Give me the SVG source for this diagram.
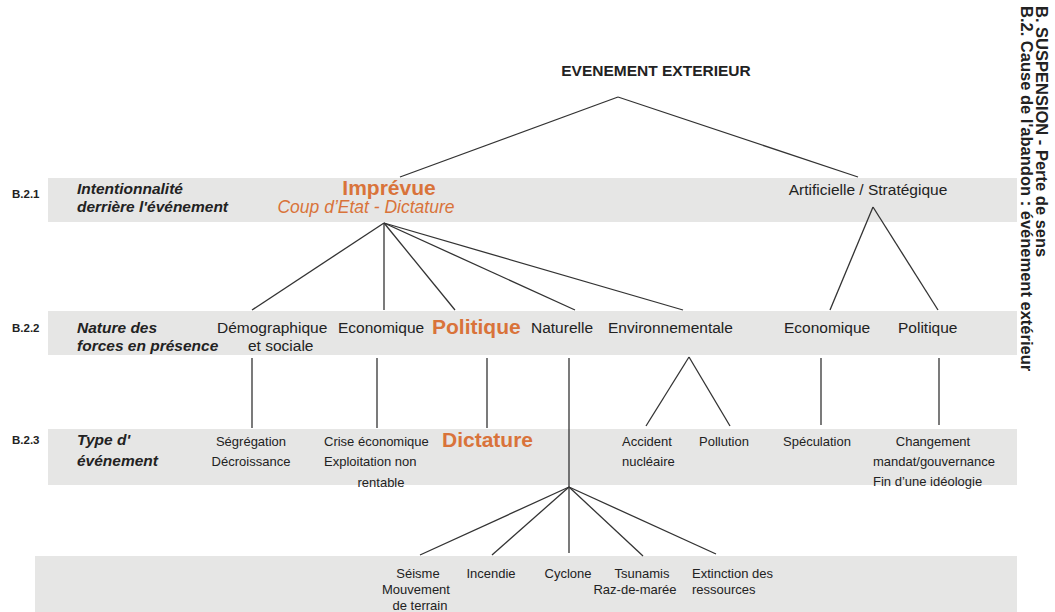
<svg xmlns="http://www.w3.org/2000/svg" width="1055" height="612" viewBox="0 0 1055 612">
<style>
text{font-family:"Liberation Sans",Arial,Helvetica,sans-serif;fill:#222}
.band{fill:#e6e6e5}
.code{font-size:11.5px;font-weight:bold}
.lab{font-size:15.5px;font-weight:bold;font-style:italic}
.t1{font-size:15.5px}
.t3{font-size:13px}
.or{font-size:21px;font-weight:bold;fill:#d9733a}
.ori{font-size:17.5px;font-style:italic;fill:#d9733a}
.side{font-size:16.5px;font-weight:bold}
.c line{stroke:#333;stroke-width:1.3;fill:none}
</style>
<rect width="1055" height="612" fill="#fff"/>
<g id="bands">
<rect class="band" x="48" y="178" width="969" height="44"/>
<rect class="band" x="48" y="311" width="969" height="44"/>
<rect class="band" x="48" y="429" width="969" height="56"/>
<rect class="band" x="35" y="556" width="982" height="56"/>
</g>
<g id="side">
<text class="side" transform="translate(1036,6) rotate(90)">B. SUSPENSION - Perte de sens</text>
<text class="side" transform="translate(1021,6) rotate(90)">B.2. Cause de l'abandon : événement extérieur</text>
</g>
<g id="row-labels">
<text class="code" x="12" y="198">B.2.1</text>
<text class="lab" x="77" y="194">Intentionnalité</text>
<text class="lab" x="77" y="212">derrière l'événement</text>
<text class="code" x="12" y="332">B.2.2</text>
<text class="lab" x="77" y="333">Nature des</text>
<text class="lab" x="77" y="351">forces en présence</text>
<text class="code" x="12" y="444">B.2.3</text>
<text class="lab" x="77" y="445">Type d'</text>
<text class="lab" x="77" y="466">événement</text>
</g>
<g id="connectors" class="c">
<line x1="618" y1="97" x2="400" y2="177"/>
<line x1="618" y1="97" x2="858" y2="177"/>
<line x1="384" y1="223" x2="252" y2="310"/>
<line x1="384" y1="223" x2="384" y2="310"/>
<line x1="384" y1="223" x2="455" y2="310"/>
<line x1="384" y1="223" x2="575" y2="310"/>
<line x1="384" y1="223" x2="683" y2="310"/>
<line x1="873" y1="207" x2="830" y2="310"/>
<line x1="873" y1="207" x2="938" y2="310"/>
<line x1="252" y1="358" x2="252" y2="428"/>
<line x1="377" y1="358" x2="377" y2="428"/>
<line x1="487" y1="358" x2="487" y2="428"/>
<line x1="821" y1="358" x2="821" y2="425"/>
<line x1="939" y1="358" x2="939" y2="425"/>
<line x1="569" y1="358" x2="569" y2="553"/>
<line x1="689" y1="357" x2="646" y2="426"/>
<line x1="689" y1="357" x2="730" y2="426"/>
<line x1="569" y1="487" x2="420" y2="555"/>
<line x1="569" y1="487" x2="492" y2="555"/>
<line x1="569" y1="487" x2="643" y2="556"/>
<line x1="569" y1="487" x2="716" y2="554"/>
</g>
<g id="n-root"><text x="656" y="76" text-anchor="middle" style="font-size:15.5px;font-weight:bold">EVENEMENT EXTERIEUR</text></g>
<g id="n-imprevue">
<text class="or" x="389" y="195" text-anchor="middle">Imprévue</text>
<text class="ori" x="366" y="213" text-anchor="middle">Coup d’Etat - Dictature</text>
</g>
<g id="n-artificielle"><text class="t1" x="868" y="195" text-anchor="middle">Artificielle / Stratégique</text></g>
<g id="n-demo"><text class="t1" x="217" y="333">Démographique</text><text class="t1" x="248" y="351">et sociale</text></g>
<g id="n-eco1"><text class="t1" x="338" y="333">Economique</text></g>
<g id="n-pol1"><text class="or" x="432" y="334">Politique</text></g>
<g id="n-nat"><text class="t1" x="531" y="333">Naturelle</text></g>
<g id="n-env"><text class="t1" x="608" y="333">Environnementale</text></g>
<g id="n-eco2"><text class="t1" x="784" y="333">Economique</text></g>
<g id="n-pol2"><text class="t1" x="898" y="333">Politique</text></g>
<g id="n-segr"><text class="t3" x="251" y="446" text-anchor="middle">Ségrégation</text><text class="t3" x="251" y="466" text-anchor="middle">Décroissance</text></g>
<g id="n-crise"><text class="t3" x="324" y="446">Crise économique</text><text class="t3" x="324" y="466">Exploitation non</text><text class="t3" x="381" y="487" text-anchor="middle">rentable</text></g>
<g id="n-dict"><text class="or" x="442" y="447">Dictature</text></g>
<g id="n-acc"><text class="t3" x="622" y="446">Accident</text><text class="t3" x="622" y="466">nucléaire</text></g>
<g id="n-poll"><text class="t3" x="699" y="446">Pollution</text></g>
<g id="n-spec"><text class="t3" x="783" y="446">Spéculation</text></g>
<g id="n-chg"><text class="t3" x="933" y="446" text-anchor="middle">Changement</text><text class="t3" x="934" y="466" text-anchor="middle">mandat/gouvernance</text><text class="t3" x="873" y="486">Fin d’une idéologie</text></g>
<g id="n-seisme"><text class="t3" x="418" y="578" text-anchor="middle">Séisme</text><text class="t3" x="416" y="594" text-anchor="middle">Mouvement</text><text class="t3" x="420" y="610" text-anchor="middle">de terrain</text></g>
<g id="n-inc"><text class="t3" x="491" y="578" text-anchor="middle">Incendie</text></g>
<g id="n-cyc"><text class="t3" x="568" y="578" text-anchor="middle">Cyclone</text></g>
<g id="n-tsu"><text class="t3" x="642" y="578" text-anchor="middle">Tsunamis</text><text class="t3" x="635" y="594" text-anchor="middle">Raz-de-marée</text></g>
<g id="n-ext"><text class="t3" x="692" y="578">Extinction des</text><text class="t3" x="692" y="594">ressources</text></g>
</svg>
